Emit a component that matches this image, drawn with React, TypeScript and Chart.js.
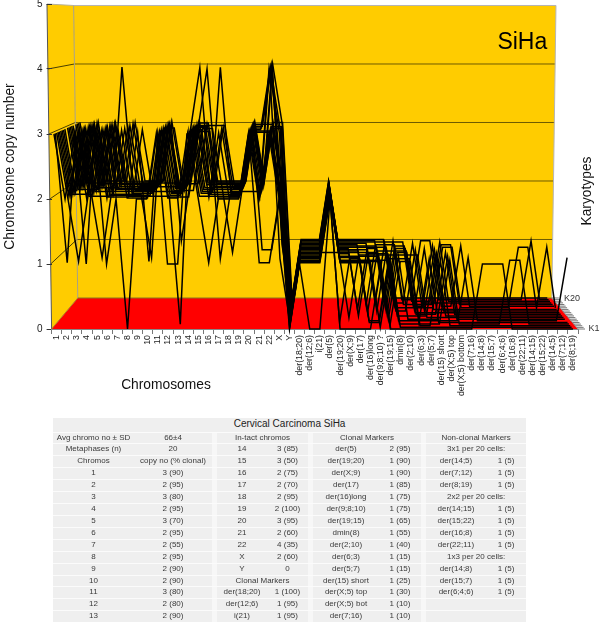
import React, { useEffect, useRef } from "react";
import { Chart, registerables } from "chart.js";

Chart.register(...registerables);

const categories = ["1","2","3","4","5","6","7","8","9","10","11","12","13","14","15","16","17","18","19","20","21","22","X","Y",
  "der(18;20)","der(12;6)","i(21)","der(5)","der(19;20)","der(X;9)","der(17)","der(16)long","der(9;8;10) ?","der(19;15)","dmin(8)","der(2;10)","der(6;3)","der(5;7)","der(15) short","der(X;5) top","der(X;5) bottom","der(7;16)",
  "der(14;8)","der(15;7)","der(6;4;6)","der(16;8)","der(22;11)","der(14;15)","der(15;22)","der(14;5)","der(7;12)","der(8;19)"];

// Copy number per category, karyotypes K1 (front) to K20 (back)
const chr1 = [3,3,3,3,3,3,3,3,3,2,3,3,3,3,3,2,3,3,3,3];
const chr2 = [2,1,2,2,2,2,2,2,2,2,2,2,2,2,2,2,2,2,2,2];
const chr3 = [3,3,1,3,3,2,3,3,3,3,2,3,3,3,3,3,3,2,3,3];
const chr4 = [1,2,2,2,2,2,2,2,2,2,2,2,2,2,2,2,2,2,2,2];
const chr5 = [3,3,3,2,3,1,3,3,2,3,3,3,2,3,3,3,2,3,3,2];
const chr6 = [1,2,2,2,2,2,2,2,2,2,2,2,2,2,2,2,2,2,2,2];
const chr7 = [2,3,2,3,2,2,3,4,2,3,2,2,3,2,3,2,2,3,2,3];
const chr8 = [0,2,2,2,2,2,2,2,2,2,2,2,2,2,2,2,2,2,2,2];
const chr9 = [2,2,3,2,2,2,2,3,2,2,2,2,2,2,2,2,2,2,2,2];
const chr10 = [2,2,1,2,2,1,2,2,2,2,2,2,2,2,2,2,2,2,2,2];
const chr11 = [3,3,3,2,3,3,3,3,2,3,3,3,3,2,3,3,3,2,3,3];
const chr12 = [1,2,2,2,2,3,2,2,2,2,3,2,2,2,2,2,2,2,1,2];
const chr13 = [1,2,2,0,2,2,2,2,2,2,2,2,2,2,2,2,2,2,2,2];
const chr14 = [3,3,2,3,3,3,3,3,3,2,3,3,3,3,3,3,2,3,3,3];
const chr15 = [3,2,3,2,3,4,2,3,2,3,2,3,2,3,3,2,3,2,3,2];
const chr16 = [4,1,2,2,3,2,2,2,2,3,2,2,2,2,3,2,2,2,2,2];
const chr17 = [2,2,3,2,1,2,4,2,3,2,2,3,2,2,3,2,2,2,2,2];
const chr18 = [2,2,2,2,2,2,2,2,2,1,2,2,2,2,2,2,2,2,2,2];
const chr19 = [2,2,2,2,2,2,2,2,2,2,2,2,2,2,2,2,2,2,2,2];
const chr20 = [3,3,3,3,3,3,3,3,2,3,3,3,3,3,3,3,3,3,3,3];
const chr21 = [2,1,2,3,2,3,2,3,2,2,3,1,2,3,2,2,3,2,2,2];
const chr22 = [3,1,4,3,4,3,3,4,3,3,4,1,3,4,3,4,3,4,3,3];
const chrX = [2,2,3,2,1,2,2,3,2,3,2,2,3,2,2,1,2,3,2,3];
const chrY = [0,0,0,0,0,0,0,0,0,0,0,0,0,0,0,0,0,0,0,0];
const der18_20 = [1,1,1,1,1,1,1,1,1,1,1,1,1,1,1,1,1,1,1,1];
const der12_6 = [0,1,1,1,1,1,1,1,1,1,1,1,1,1,1,1,1,1,1,1];
const i21 = [0,1,1,1,1,1,1,1,1,1,1,1,1,1,1,1,1,1,1,1];
const der5 = [2,2,2,2,2,2,2,2,2,1,2,2,2,2,2,2,2,2,2,2];
const der19_20 = [0,1,1,1,0,1,1,1,1,1,1,1,1,1,1,1,1,1,1,1];
const derX_9 = [0,1,1,1,1,1,1,0,1,1,1,1,1,1,1,1,1,1,1,1];
const der17 = [0,1,1,1,1,1,1,1,0,1,1,1,0,1,1,1,1,1,1,1];
const der16long = [0,1,1,1,0,0,1,1,1,1,0,1,1,1,1,0,1,1,1,1];
const der9_8_10 = [1,0,1,1,0,0,1,1,1,1,1,0,1,1,1,1,0,1,1,1];
const der19_15 = [0,1,0,1,1,1,0,1,1,0,1,1,0,1,0,1,1,1,0,1];
const dmin8 = [0,0,1,0,1,0,1,1,0,1,1,0,1,0,1,1,0,1,1,0];
const der2_10 = [0,0,1,0,1,0,0,1,0,1,1,0,1,0,1,0,0,1,0,0];
const der6_3 = [0,0,0,0,0,0,0,1,0,0,0,1,0,0,0,0,1,0,0,0];
const der5_7 = [0,0,0,0,1,0,0,0,0,0,0,0,1,0,0,0,0,0,1,0];
const der15short = [0,0,1,0,0,0,0,0,1,0,0,1,0,0,1,0,0,0,1,0];
const derX_5top = [0,0,0,1,0,0,1,0,0,1,0,0,0,1,0,1,0,1,0,0];
const derX_5bot = [0,0,0,0,0,0,0,0,0,0,0,0,0,1,0,1,0,0,0,0];
const der7_16 = [0,0,0,0,0,1,0,0,0,0,0,0,0,0,1,0,0,0,0,0];
const der14_8 = [1,0,0,0,0,0,0,0,0,0,0,0,0,0,0,0,0,0,0,0];
const der15_7 = [1,0,0,0,0,0,0,0,0,0,0,0,0,0,0,0,0,0,0,0];
const der6_4_6 = [1,0,0,0,0,0,0,0,0,0,0,0,0,0,0,0,0,0,0,0];
const der16_8 = [0,0,0,1,0,0,0,0,0,0,0,0,0,0,0,0,0,0,0,0];
const der22_11 = [0,0,0,1,0,0,0,0,0,0,0,0,0,0,0,0,0,0,0,0];
const der14_15 = [0,0,0,0,0,0,0,0,0,0,0,0,0,1,0,0,0,0,0,0];
const der15_22 = [0,0,0,0,0,0,0,0,0,0,0,0,0,1,0,0,0,0,0,0];
const der14_5 = [0,0,0,0,0,0,0,0,0,0,0,0,0,0,0,0,0,0,1,0];
const der7_12 = [0,0,0,0,0,0,0,0,0,0,0,0,0,1,0,0,0,0,0,0];
const der8_19 = [0,0,0,0,0,1,0,0,0,0,0,0,0,0,0,0,0,0,0,0];

const columns = [chr1,chr2,chr3,chr4,chr5,chr6,chr7,chr8,chr9,chr10,chr11,chr12,chr13,chr14,chr15,chr16,chr17,chr18,chr19,chr20,chr21,chr22,chrX,chrY,
  der18_20,der12_6,i21,der5,der19_20,derX_9,der17,der16long,der9_8_10,der19_15,dmin8,der2_10,der6_3,der5_7,der15short,derX_5top,derX_5bot,der7_16,
  der14_8,der15_7,der6_4_6,der16_8,der22_11,der14_15,der15_22,der14_5,der7_12,der8_19];

const yTicks = [0,1,2,3,4,5];
const depthSteps = chr19.map((_, k) => k);

// Table text
const tableTitle = "Cervical Carcinoma SiHa";
const col1 = ["Avg chromo no ± SD","Metaphases (n)","Chromos","1","2","3","4","5","6","7","8","9","10","11","12","13"];
const col2 = ["66±4","20","copy no (% clonal)","3 (90)","2 (95)","3 (80)","2 (95)","3 (70)","2 (95)","2 (55)","2 (95)","2 (90)","2 (90)","3 (80)","2 (80)","2 (90)"];
const col3 = ["In-tact chromos","14","15","16","17","18","19","20","21","22","X","Y","Clonal Markers","der(18;20)","der(12;6)","i(21)"];
const col4 = [null,"3 (85)","3 (50)","2 (75)","2 (70)","2 (95)","2 (100)","3 (95)","2 (60)","4 (35)","2 (60)","0",null,"1 (100)","1 (95)","1 (95)"];
const col5 = ["Clonal Markers","der(5)","der(19;20)","der(X;9)","der(17)","der(16)long","der(9;8;10)","der(19;15)","dmin(8)","der(2;10)","der(6;3)","der(5;7)","der(15) short","der(X;5) top","der(X;5) bot","der(7;16)"];
const col6 = [null,"2 (95)","1 (90)","1 (90)","1 (85)","1 (75)","1 (75)","1 (65)","1 (55)","1 (40)","1 (15)","1 (15)","1 (25)","1 (30)","1 (10)","1 (10)"];
const col7 = ["Non-clonal Markers","3x1 per 20 cells:","der(14;5)","der(7;12)","der(8;19)","2x2 per 20 cells:","der(14;15)","der(15;22)","der(16;8)","der(22;11)","1x3 per 20 cells:","der(14;8)","der(15;7)","der(6;4;6)","",""];
const col8 = [null,null,"1 (5)","1 (5)","1 (5)",null,"1 (5)","1 (5)","1 (5)","1 (5)",null,"1 (5)","1 (5)","1 (5)","",""];

const FONT = '"Liberation Sans", Arial, sans-serif';
const CX = 25.5, XS = 0.0994, XV = 0.0035, YS = 0.1, YF = 0.477;
const project = (i: number, v: number, t: number) => ({
  x: CX + (i - CX) * (1 - XS * t) * (1 + XV * v),
  y: v * (1 - YS * t) + YF * t,
});

const scene = {
  id: "scene",
  beforeDraw(chart: any) {
    const { ctx, scales: { x, y } } = chart;
    const P = (i: number, v: number, t: number) => {
      const p = project(i, v, t);
      return [x.getPixelForValue(p.x), y.getPixelForValue(p.y)];
    };
    const L = -0.5, R = 51.5, T = 5;
    const poly = (pts: number[][], fill: string) => {
      ctx.beginPath();
      pts.forEach((p, n) => (n ? ctx.lineTo(p[0], p[1]) : ctx.moveTo(p[0], p[1])));
      ctx.closePath();
      ctx.fillStyle = fill;
      ctx.fill();
    };
    const line = (a: number[], b: number[], color: string, w = 1) => {
      ctx.beginPath();
      ctx.moveTo(a[0], a[1]);
      ctx.lineTo(b[0], b[1]);
      ctx.strokeStyle = color;
      ctx.lineWidth = w;
      ctx.stroke();
    };
    ctx.save();
    poly([P(L,0,0),P(L,T,0),P(L,T,1),P(L,0,1)], "#FFCC00");
    poly([P(L,0,1),P(L,T,1),P(R,T,1),P(R,0,1)], "#FFCC00");
    poly([P(L,0,0),P(L,0,1),P(R,0,1),P(R,0,0)], "#FF0000");
    yTicks.slice(1, 5).forEach((v) => {
      line(P(L,v,0), P(L,v,1), "#4a3f00");
      line(P(L,v,1), P(R,v,1), "#6e5a00");
    });
    line(P(L,T,0), P(L,T,1), "#b5b09a");
    line(P(L,T,1), P(R,T,1), "#b5b5b5");
    line(P(L,0,1), P(L,T,1), "#a8a080");
    line(P(R,0,1), P(R,T,1), "#b5b5b5");
    line(P(L,0,1), P(R,0,1), "#8a7a20");
    line(P(L,0,0), P(L,T,0), "#555555");
    line(P(L,0,0), P(L,0,1), "#b08020");
    line(P(R,0,0), P(R,0,1), "#999999");
    depthSteps.forEach((k) => {
      const a = P(R, 0, k / 19);
      line(a, [a[0] + 7, a[1]], "#777777");
    });
    ctx.restore();
  },
  afterDraw(chart: any) {
    const { ctx, scales: { x, y } } = chart;
    const text = (s: string, px: number, py: number, font: string, color = "#111", rot = 0) => {
      ctx.save();
      ctx.translate(px, py);
      ctx.rotate(rot);
      ctx.font = font;
      ctx.fillStyle = color;
      ctx.textAlign = "center";
      ctx.textBaseline = "middle";
      ctx.fillText(s, 0, 0);
      ctx.restore();
    };
    text("SiHa", x.getPixelForValue(46), y.getPixelForValue(4.4), `23px ${FONT}`, "#000");
    text("Chromosomes", x.getPixelForValue(10.8), 385, `13.8px ${FONT}`);
    text("Karyotypes", 587, 191, `13.8px ${FONT}`, "#111", -Math.PI / 2);
    text("K20", 572, 299, `9px ${FONT}`, "#333");
    text("K1", 594, 329, `9px ${FONT}`, "#333");
  },
};

function ChartCanvas() {
  const ref = useRef<HTMLCanvasElement>(null);
  useEffect(() => {
    const chart = new Chart(ref.current as HTMLCanvasElement, {
      type: "line",
      data: {
        datasets: depthSteps.map((k) => ({
          label: `K${k + 1}`,
          data: columns.map((c, i) => project(i, c[k], k / 19)),
          borderColor: "#000",
          borderWidth: 1.5,
          pointRadius: 0,
          tension: 0,
          clip: false,
        })),
      },
      options: {
        responsive: false,
        animation: false,
        layout: { padding: { top: 4, right: 22, left: 0, bottom: 0 } },
        plugins: { legend: { display: false }, tooltip: { enabled: false }, title: { display: false } },
        scales: {
          x: {
            type: "linear",
            min: -0.5,
            max: 51.5,
            afterFit(s: any) { s.height = 293; s.paddingLeft = 0; s.paddingRight = 0; },
            afterBuildTicks(s: any) { s.ticks = categories.map((_, i) => ({ value: i })); },
            border: { display: true, color: "#888" },
            grid: { offset: true, drawOnChartArea: false, drawTicks: true, tickLength: 5, color: "#777" },
            ticks: {
              autoSkip: false,
              minRotation: 90,
              maxRotation: 90,
              padding: 1,
              color: "#222",
              font: { family: FONT, size: 8.8 },
              callback: (v: any) => categories[v as number],
            },
          },
          y: {
            type: "linear",
            min: 0,
            max: 5,
            afterFit(s: any) { s.width = 51.6; s.paddingTop = 0; s.paddingBottom = 0; },
            border: { display: false },
            grid: { drawOnChartArea: false, drawTicks: true, tickLength: 5, color: "#333" },
            ticks: { stepSize: 1, padding: 4, color: "#222", font: { family: FONT, size: 10 } },
            title: { display: true, text: "Chromosome copy number", color: "#111", font: { family: FONT, size: 13.8 }, padding: { top: 2, bottom: 0 } },
          },
        },
      },
      plugins: [scene],
    } as any);
    return () => chart.destroy();
  }, []);
  return <canvas ref={ref} width={600} height={622} style={{ position: "absolute", left: 0, top: 0, display: "block" }} />;
}

const widths = [81, 78, 5, 50, 41, 5, 66, 42, 5, 60, 40];
const cellBase: React.CSSProperties = { padding: 0, textAlign: "center", background: "#efefef", borderBottom: "1px solid #fbfbfb", overflow: "hidden", whiteSpace: "nowrap" };
const gap: React.CSSProperties = { ...cellBase, background: "#f7f7f7" };

function pair(a: string, b: string | null, key: string) {
  if (b === null) return <td key={key} colSpan={2} style={cellBase}>{a}</td>;
  return (
    <React.Fragment key={key}>
      <td style={cellBase}>{a}</td>
      <td style={cellBase}>{b}</td>
    </React.Fragment>
  );
}

function DataTable() {
  return (
    <table style={{ position: "absolute", left: 53, top: 418, width: 473, tableLayout: "fixed", borderCollapse: "collapse", fontFamily: FONT, fontSize: 8, lineHeight: "10.9px", color: "#3a3a3a" }}>
      <colgroup>{widths.map((w, i) => <col key={i} style={{ width: w }} />)}</colgroup>
      <tbody>
        <tr style={{ height: 14 }}>
          <td colSpan={11} style={{ ...cellBase, fontSize: 10, color: "#222" }}>{tableTitle}</td>
        </tr>
        {col1.map((c, r) => (
          <tr key={r} style={{ height: 11.93 }}>
            <td style={cellBase}>{c}</td>
            <td style={cellBase}>{col2[r]}</td>
            <td style={gap} />
            {pair(col3[r], col4[r], "a")}
            <td style={gap} />
            {pair(col5[r], col6[r], "b")}
            <td style={gap} />
            {pair(col7[r], col8[r], "c")}
          </tr>
        ))}
      </tbody>
    </table>
  );
}

export default function App() {
  return (
    <div style={{ position: "absolute", left: 0, top: 0, width: 600, height: 622, overflow: "hidden", background: "#fff" }}>
      <ChartCanvas />
      <DataTable />
    </div>
  );
}
